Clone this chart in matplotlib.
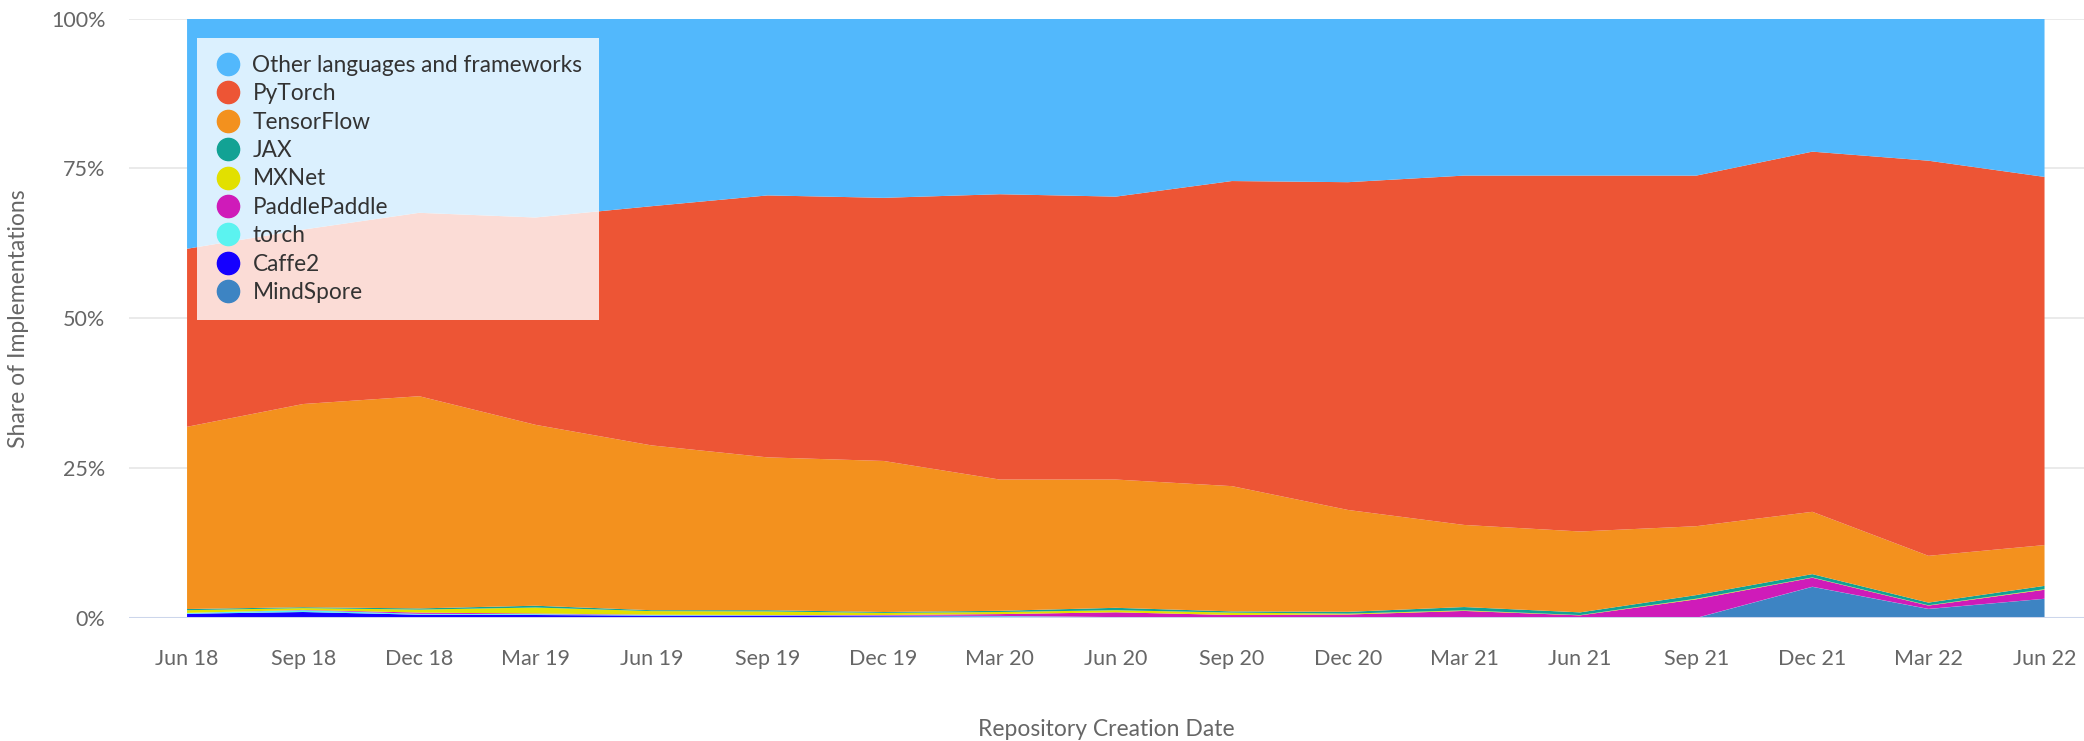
import matplotlib
matplotlib.use("Agg")
import matplotlib.pyplot as plt
import numpy as np
from matplotlib.lines import Line2D

plt.rcParams['font.family'] = ['Lato', 'DejaVu Sans']

dates = ["Jun 18", "Sep 18", "Dec 18", "Mar 19", "Jun 19", "Sep 19", "Dec 19", "Mar 20",
         "Jun 20", "Sep 20", "Dec 20", "Mar 21", "Jun 21", "Sep 21", "Dec 21", "Mar 22", "Jun 22"]

mindspore = [0, 0, 0, 0, 0, 0, 0, 0, 0, 0, 0, 0, 0, 0, 5.2, 1.5, 3.2]
caffe2 = [0.7, 1.0, 0.55, 0.5, 0.4, 0.35, 0.3, 0.25, 0.1, 0.05, 0.05, 0.05, 0.02, 0, 0, 0, 0]
torch = [0.15, 0.3, 0.15, 0.15, 0.1, 0.1, 0.1, 0.1, 0.05, 0.05, 0.03, 0.03, 0.02, 0.02, 0.02, 0.02, 0.01]
paddle = [0, 0.05, 0.2, 0.1, 0.05, 0.05, 0.1, 0.3, 0.8, 0.4, 0.5, 1.1, 0.4, 3.1, 1.5, 0.55, 1.5]
mxnet = [0.45, 0.3, 0.5, 1.0, 0.6, 0.6, 0.35, 0.35, 0.35, 0.4, 0.15, 0.1, 0.05, 0.1, 0.05, 0.05, 0.1]
jax = [0.2, 0.15, 0.2, 0.3, 0.15, 0.2, 0.15, 0.2, 0.4, 0.2, 0.3, 0.55, 0.45, 0.6, 0.55, 0.45, 0.55]
tensorflow = [30.4, 33.9, 35.4, 30.2, 27.5, 25.5, 25.2, 21.9, 21.4, 20.9, 17.0, 13.7, 13.5, 11.5, 10.4, 7.8, 6.8]
pytorch = [29.7, 29.1, 30.6, 34.6, 39.9, 43.7, 43.9, 47.6, 47.2, 50.9, 54.7, 58.3, 59.4, 58.5, 60.1, 65.9, 61.4]
other = [38.4, 35.2, 32.4, 33.2, 31.3, 29.5, 29.9, 29.3, 29.7, 27.1, 27.3, 26.2, 26.2, 26.2, 22.2, 23.7, 26.4]

names = ["Other languages and frameworks", "PyTorch", "TensorFlow", "JAX", "MXNet",
         "PaddlePaddle", "torch", "Caffe2", "MindSpore"]
colors = ["#52b8fc", "#ed5535", "#f3911e", "#12a294", "#e2e000",
          "#cf1bb9", "#5bf3f0", "#1500ff", "#3d84c3"]
series = [other, pytorch, tensorflow, jax, mxnet, paddle, torch, caffe2, mindspore]

data = np.array(series, dtype=float)
share = data / data.sum(axis=0) * 100.0
x = np.arange(len(dates))

W, H = 2084, 741
fig = plt.figure(figsize=(W / 100, H / 100), dpi=100)
ax = fig.add_axes([129 / W, (H - 618) / H, 1 - 129 / W, (618 - 18.6) / H])

# stack: last series at bottom (Highcharts order)
ax.stackplot(x, share[::-1], colors=colors[::-1], linewidth=0, zorder=2)

ax.set_xlim(-0.5, 16.34)
ax.set_ylim(0, 100)
ax.set_yticks([0, 25, 50, 75, 100])
ax.set_yticklabels(["0%", "25%", "50%", "75%", "100%"])
ax.set_xticks(x)
ax.set_xticklabels(dates)
for y in [25, 50, 75, 100]:
    ax.axhline(y, color="#e6e6e6", lw=1.2, zorder=1)
ax.axhline(0, color="#ccd6eb", lw=2.2, zorder=3)
for s in ax.spines.values():
    s.set_visible(False)
ax.tick_params(axis="both", length=0, colors="#666666", labelsize=15.5)
ax.tick_params(axis="y", pad=17)
ax.tick_params(axis="x", pad=22)
ax.set_ylabel("Share of Implementations", fontsize=16.5, color="#666666", labelpad=16)
fig.text(0.5 * (129 + W) / W, (H - 729) / H, "Repository Creation Date", fontsize=16.5,
         color="#666666", ha="center", va="center")

handles = [Line2D([0], [0], marker='o', linestyle='None', markersize=16,
                  markerfacecolor=c, markeredgecolor=c) for c in colors]
leg = ax.legend(handles, names, loc="upper left", bbox_to_anchor=(68 / (W - 129), 1 - 19 / 600),
                fontsize=16.3, frameon=True, fancybox=False, framealpha=0.8,
                edgecolor="none", facecolor="white", labelspacing=0.33,
                handletextpad=0.5, borderpad=0.75, handlelength=1.2, borderaxespad=0)
for t in leg.get_texts():
    t.set_color("#333333")
leg.set_zorder(5)

fig.savefig("out.png", dpi=100)
